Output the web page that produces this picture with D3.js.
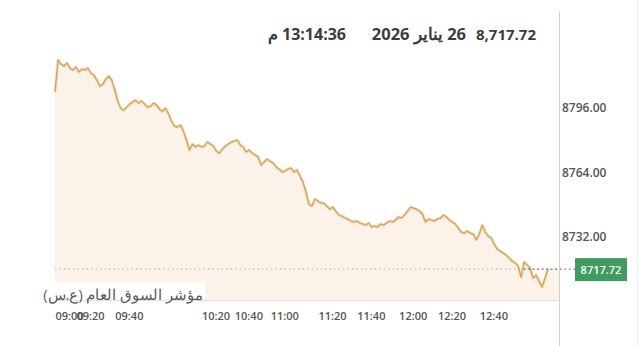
<html>
<head>
  <meta charset="utf-8">
  <title>TASI intraday</title>
  <script src="https://d3js.org/d3.v7.min.js"></script>
  <style>
    body { margin: 0; background: #fff; }
    svg { display: block; font-family: "Open Sans", "Noto Sans", sans-serif; }
  </style>
</head>
<body>
<div id="container"></div>
<script>
  // index values, one sample every ~1.5 minutes from 09:00 to 13:14
  var values = [
    8805.6, 8821.4, 8819.5, 8818.5, 8820.0, 8817.5, 8816.5, 8818.0, 8815.5, 8817.0,
    8816.5, 8817.5, 8815.0, 8814.0, 8811.5, 8808.5, 8809.5, 8812.0, 8813.5, 8811.5,
    8806.6, 8801.1, 8797.6, 8796.6, 8798.1, 8799.6, 8800.6, 8801.6, 8800.1, 8801.1,
    8799.6, 8798.1, 8798.6, 8800.1, 8799.1, 8797.1, 8796.1, 8797.6, 8794.7, 8791.2,
    8788.7, 8788.2, 8789.2, 8786.2, 8781.8, 8776.8, 8779.8, 8778.3, 8779.3, 8778.3,
    8778.8, 8780.8, 8779.8, 8778.8, 8776.3, 8775.3, 8777.3, 8778.8, 8779.8, 8780.8,
    8781.3, 8781.8, 8779.3, 8778.3, 8775.8, 8776.8, 8775.3, 8774.3, 8773.3, 8769.4,
    8770.9, 8772.3, 8771.3, 8770.4, 8768.4, 8767.4, 8765.9, 8766.4, 8767.4, 8767.9,
    8765.9, 8766.9, 8763.9, 8760.9, 8756.0, 8750.0, 8749.0, 8752.5, 8751.5, 8750.5,
    8750.5, 8749.0, 8747.5, 8748.5, 8746.5, 8744.6, 8744.1, 8743.1, 8742.6, 8741.6,
    8741.1, 8741.6, 8740.6, 8740.1, 8739.6, 8740.6, 8738.6, 8739.1, 8738.6, 8740.1,
    8739.6, 8740.6, 8741.6, 8741.1, 8742.1, 8743.6, 8743.1, 8744.6, 8746.5, 8748.5,
    8748.0, 8747.5, 8746.5, 8745.1, 8741.1, 8742.6, 8742.1, 8741.6, 8742.6, 8743.1,
    8744.6, 8743.6, 8742.1, 8741.1, 8740.1, 8738.1, 8736.1, 8735.6, 8736.6, 8735.6,
    8735.1, 8732.2, 8735.1, 8739.6, 8736.1, 8734.1, 8733.2, 8730.2, 8727.7, 8726.7,
    8725.7, 8724.7, 8723.2, 8721.7, 8720.8, 8719.3, 8713.8, 8721.3, 8719.8, 8718.3,
    8713.3, 8714.8, 8711.8, 8708.9, 8713.3, 8717.72
  ]

  // time labels and the sample index each one sits on
  var timeLabels = ["09:00", "09:20", "09:40", "10:20", "10:40", "11:00", "11:20", "11:40", "12:00", "12:20", "12:40"]
  var timeIndex  = [0, 7, 20, 49, 60, 72, 88, 101, 115, 128, 142]

  var yTicks = [8732, 8764, 8796]

  var lastValue = 8717.72
  var headerValue = "8,717.72"
  var headerDate = "26 يناير 2026"
  var headerTime = "13:14:36 م"
  var indexName = "مؤشر السوق العام (ع.س)"

  var width = 640, height = 346
  var left = 55, lineRight = 548, plotRight = 559, plotTop = 12, bottom = 300

  var svg = d3.select("#container").append("svg")
      .attr("width", width)
      .attr("height", height)

  var x = d3.scaleLinear().domain([0, values.length - 1]).range([left, lineRight])
  var y = d3.scaleLinear().domain([8702.4, 8845.3]).range([bottom, plotTop])

  var pts = values.map(function(v, i) { return [x(i), y(v)] })
  var areaPts = pts.concat([[plotRight, y(values[values.length - 1])]])

  // fill under the line
  svg.append("path")
      .datum(areaPts)
      .attr("fill", "#fbf2e9")
      .attr("d", d3.area().x(function(d) { return d[0] }).y0(bottom).y1(function(d) { return d[1] }))

  // frame lines
  svg.append("line")
      .attr("x1", plotRight + 0.5).attr("x2", plotRight + 0.5).attr("y1", plotTop).attr("y2", height)
      .attr("stroke", "#cfcfcf")
  svg.append("line")
      .attr("x1", left).attr("x2", plotRight).attr("y1", bottom + 0.5).attr("y2", bottom + 0.5)
      .attr("stroke", "#e3e3e3")
  svg.append("line")
      .attr("x1", 637.5).attr("x2", 637.5).attr("y1", 0).attr("y2", height)
      .attr("stroke", "#ececec")

  // last price dotted guide
  svg.append("line")
      .attr("x1", left).attr("x2", plotRight).attr("y1", y(lastValue)).attr("y2", y(lastValue))
      .attr("stroke", "#b0b0b0").attr("stroke-dasharray", "1.5,3")

  // price line, a soft wide stroke under a thin one for the fuzzy tick look
  svg.append("path")
      .datum(pts)
      .attr("fill", "none")
      .attr("stroke", "#e2b877")
      .attr("stroke-opacity", 0.45)
      .attr("stroke-width", 3)
      .attr("stroke-linejoin", "round")
      .attr("d", d3.line())
  svg.append("path")
      .datum(pts)
      .attr("fill", "none")
      .attr("stroke", "#d3a150")
      .attr("stroke-width", 1.2)
      .attr("stroke-linejoin", "round")
      .attr("d", d3.line())

  svg.append("line")
      .attr("x1", x(values.length - 9)).attr("x2", 575).attr("y1", y(lastValue)).attr("y2", y(lastValue))
      .attr("stroke", "#444").attr("stroke-dasharray", "1.5,3")

  // y axis on the right
  var yAxis = svg.append("g")
      .attr("transform", "translate(" + (plotRight + 3) + ",0)")
      .call(d3.axisRight(y).tickValues(yTicks).tickSize(0).tickFormat(d3.format(".2f")))
  yAxis.select(".domain").remove()
  yAxis.selectAll("text")
      .attr("x", 0).attr("dy", "0.05em")
      .attr("fill", "#555").attr("font-size", 12).attr("font-weight", 600)
      .attr("font-family", "'Open Sans', sans-serif")

  // current value badge
  svg.append("rect")
      .attr("x", 575).attr("y", y(lastValue) - 11).attr("width", 52).attr("height", 23)
      .attr("fill", "#3f9b61")
  svg.append("text")
      .attr("x", 601).attr("y", y(lastValue) + 4.5)
      .attr("text-anchor", "middle")
      .attr("fill", "#fff").attr("font-size", 11).attr("font-weight", 600)
      .text(d3.format(".2f")(lastValue))

  // x axis labels
  var xAxis = svg.append("g")
      .attr("transform", "translate(0," + bottom + ")")
      .call(d3.axisBottom(x).tickValues(timeIndex).tickSize(0)
        .tickFormat(function(d, i) { return timeLabels[i] }))
  xAxis.select(".domain").remove()
  xAxis.selectAll("text")
      .attr("y", 20).attr("dy", 0)
      .attr("text-anchor", "start")
      .attr("fill", "#555").attr("font-size", 11).attr("font-weight", 600)
      .attr("font-family", "'Open Sans', sans-serif")

  // index name with its white backing
  svg.append("rect")
      .attr("x", 40).attr("y", 282).attr("width", 165).attr("height", 18)
      .attr("fill", "#fff")
  svg.append("text")
      .attr("x", 203).attr("y", 300)
      .attr("direction", "rtl")
      .attr("text-anchor", "start")
      .attr("fill", "#5a5a5a").attr("font-size", 14.5)
      .text(indexName)

  // header
  var header = svg.append("g")
      .attr("fill", "#3c3c3c").attr("font-size", 15).attr("font-weight", 700)
  header.append("text").attr("x", 536).attr("y", 40).attr("text-anchor", "end").text(headerValue)
  header.append("text").attr("x", 466).attr("y", 40).attr("direction", "rtl").attr("text-anchor", "start")
      .attr("font-size", 16.5).text(headerDate)
  header.append("text").attr("x", 346).attr("y", 40).attr("direction", "rtl").attr("text-anchor", "start")
      .attr("font-size", 16).text(headerTime)
</script>
</body>
</html>
